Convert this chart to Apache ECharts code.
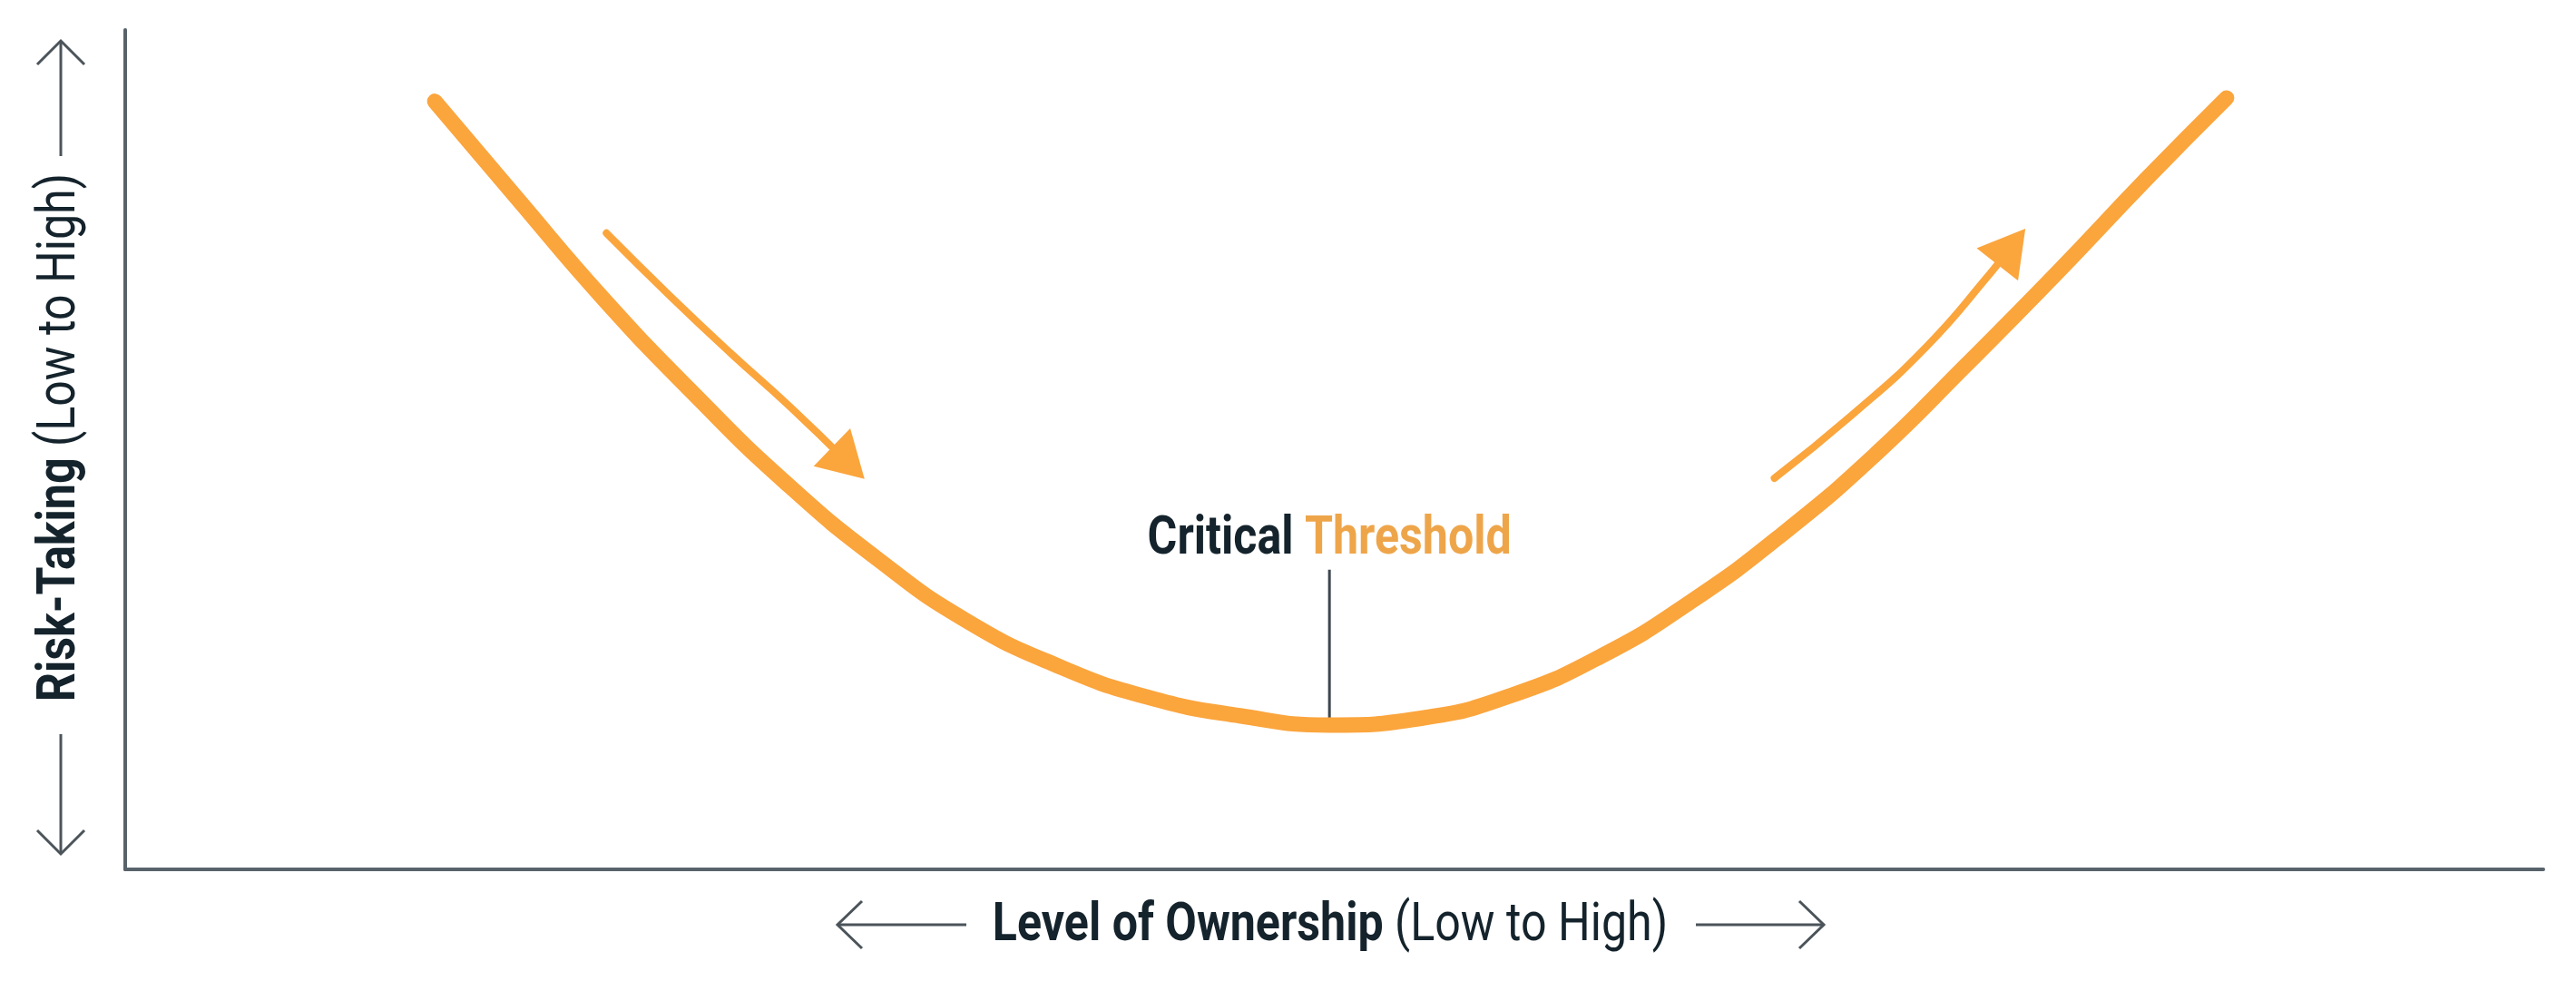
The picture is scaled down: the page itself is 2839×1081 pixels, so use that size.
<!DOCTYPE html>
<html>
<head>
<meta charset="utf-8">
<title>Risk-Taking vs Level of Ownership</title>
<script src="https://cdn.jsdelivr.net/npm/echarts@6/dist/echarts.min.js"></script>
<style>
  html, body { margin: 0; padding: 0; background: #ffffff; }
  #chart { width: 2839px; height: 1081px; }
</style>
</head>
<body>
<div id="chart"></div>
<script>
// U-curve: level of ownership (x) against risk-taking (y), both on a 0-100 scale
const curveX = [12.8, 16.1, 19.8, 23.6, 27.3, 31.1, 34.8, 38.6, 42.3, 46.1, 49.8,
                53.6, 57.3, 61.1, 64.8, 68.6, 72.4, 76.1, 79.9, 83.6, 86.9];
const curveY = [91.5, 80.3, 67.9, 56.4, 46.1, 37.0, 29.6, 24.2, 20.5, 18.3, 17.2,
                18.0, 20.7, 25.5, 32.0, 40.1, 49.5, 60.0, 71.1, 82.3, 91.9];

// guide arrows beside the curve, the last point is where the head sits
const downArrowX = [19.9, 22.5, 25.0, 27.5, 29.9];
const downArrowY = [75.8, 68.4, 61.6, 55.1, 48.4];
const upArrowX = [68.2, 71.4, 74.5, 77.1, 78.0];
const upArrowY = [46.6, 54.1, 62.3, 70.9, 74.2];

// critical threshold marker
const thresholdX = 49.8;
const thresholdY = [17.2, 35.7];

const ORANGE = '#fba53d';
const INK = '#14232c';
const AXIS = '#58626a';
const ARROW_GREY = '#4b545a';
const FONT = 'Roboto, "Noto Sans", sans-serif';
const FONT_SIZE = 59;
const SQUEEZE = 0.85; // the titles use a condensed face; squeeze Roboto to match

const zip = (xs, ys) => xs.map((x, i) => [x, ys[i]]);

function arrowData(xs, ys, rotate) {
    const pts = zip(xs, ys);
    return pts.map(function (p, i) {
        if (i === pts.length - 1) {
            return {value: p, symbol: 'triangle', symbolSize: [58, 50], symbolRotate: rotate};
        }
        return {value: p, symbol: 'none'};
    });
}

function titleStyle(text) {
    return {
        text: text,
        fontFamily: FONT,
        fontSize: FONT_SIZE,
        fill: INK,
        align: 'center',
        verticalAlign: 'middle',
        rich: {
            b: {fontFamily: FONT, fontSize: FONT_SIZE, fontWeight: 'bold', fill: INK},
            r: {fontFamily: FONT, fontSize: FONT_SIZE, fontWeight: 'normal', fill: INK},
            o: {fontFamily: FONT, fontSize: FONT_SIZE, fontWeight: 'bold', fill: '#eea54a'}
        }
    };
}

function stroke(id, points) {
    return {id: id, type: 'polyline', shape: {points: points}, style: {stroke: ARROW_GREY, lineWidth: 3, fill: null}};
}

const chart = echarts.init(document.getElementById('chart'));

const option = {
    animation: false,
    backgroundColor: '#ffffff',
    grid: {left: 138, right: 36, top: 33, bottom: 123},
    xAxis: {
        type: 'value',
        min: 0,
        max: 100,
        axisLine: {show: true, lineStyle: {color: AXIS, width: 4}},
        axisTick: {show: false},
        axisLabel: {show: false},
        splitLine: {show: false}
    },
    yAxis: {
        type: 'value',
        min: 0,
        max: 100,
        axisLine: {show: true, lineStyle: {color: AXIS, width: 4}},
        axisTick: {show: false},
        axisLabel: {show: false},
        splitLine: {show: false}
    },
    graphic: {
        elements: [
            // axis titles
            {id: 'xTitle', type: 'text', x: 1466, y: 1021, scaleX: SQUEEZE,
                style: titleStyle('{b|Level of Ownership} {r|(Low to High)}')},
            {id: 'yTitle', type: 'text', x: 67, y: 482, rotation: Math.PI / 2, scaleX: SQUEEZE,
                style: titleStyle('{b|Risk-Taking} {r|(Low to High)}')},
            // arrows flanking the axis titles
            stroke('xArrowL', [[923, 1019], [1065, 1019]]),
            stroke('xArrowLHead', [[950, 993], [923, 1019], [950, 1045]]),
            stroke('xArrowR', [[1869, 1019], [2010, 1019]]),
            stroke('xArrowRHead', [[1983, 993], [2010, 1019], [1983, 1045]]),
            stroke('yArrowU', [[67, 45], [67, 172]]),
            stroke('yArrowUHead', [[41, 71], [67, 45], [93, 71]]),
            stroke('yArrowD', [[67, 809], [67, 941]]),
            stroke('yArrowDHead', [[41, 915], [67, 941], [93, 915]])
        ]
    },
    series: [
        {
            name: 'Threshold line',
            type: 'line',
            symbol: 'none',
            z: 1,
            lineStyle: {color: '#3e474d', width: 3},
            data: [[thresholdX, thresholdY[0]], [thresholdX, thresholdY[1]]]
        },
        {
            name: 'Risk-Taking',
            type: 'line',
            smooth: 0.5,
            symbol: 'none',
            z: 3,
            lineStyle: {color: ORANGE, width: 17, cap: 'round', join: 'round'},
            data: zip(curveX, curveY)
        },
        {
            id: 'downArrow',
            type: 'line',
            smooth: 0.5,
            showSymbol: true,
            z: 3,
            itemStyle: {color: ORANGE},
            lineStyle: {color: ORANGE, width: 8, cap: 'round'},
            data: arrowData(downArrowX, downArrowY, 0)
        },
        {
            id: 'upArrow',
            type: 'line',
            smooth: 0.5,
            showSymbol: true,
            z: 3,
            itemStyle: {color: ORANGE},
            lineStyle: {color: ORANGE, width: 8, cap: 'round'},
            data: arrowData(upArrowX, upArrowY, 0)
        }
    ]
};

chart.setOption(option);

// turn each arrow head along its last segment
function headRotation(xs, ys) {
    const n = xs.length;
    const a = chart.convertToPixel({gridIndex: 0}, [xs[n - 2], ys[n - 2]]);
    const b = chart.convertToPixel({gridIndex: 0}, [xs[n - 1], ys[n - 1]]);
    const theta = Math.atan2(-(b[1] - a[1]), b[0] - a[0]) * 180 / Math.PI;
    return theta - 90;
}

// "Critical Threshold" sits just above the top of the marker line
const markerTop = chart.convertToPixel({gridIndex: 0}, [thresholdX, thresholdY[1]]);

chart.setOption({
    graphic: {
        elements: [
            {id: 'thresholdTitle', type: 'text', x: markerTop[0], y: markerTop[1] - 33, scaleX: SQUEEZE,
                style: titleStyle('{b|Critical} {o|Threshold}')}
        ]
    },
    series: [
        {id: 'downArrow', data: arrowData(downArrowX, downArrowY, headRotation(downArrowX, downArrowY))},
        {id: 'upArrow', data: arrowData(upArrowX, upArrowY, headRotation(upArrowX, upArrowY))}
    ]
});

window.addEventListener('resize', function () {
    chart.resize();
});
</script>
</body>
</html>
